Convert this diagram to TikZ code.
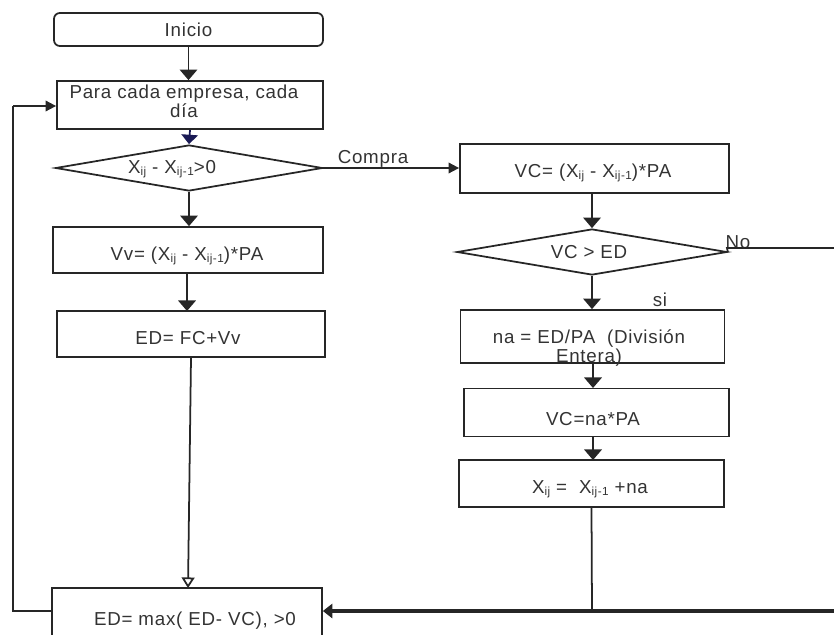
\documentclass[tikz,border=0pt]{standalone}
\usepackage{fontspec}
\setmainfont{Liberation Sans}[LetterSpace=4]
\usetikzlibrary{arrows.meta,shapes.geometric}
\newdimen\pu
\pu=0.03cm
\newcommand{\sbx}[1]{\raisebox{-0.25ex}{\fontsize{10}{10}\selectfont #1}}
\definecolor{txt}{HTML}{333333}
\definecolor{navy}{HTML}{1A1A55}
\tikzset{
  box/.style={draw=black!85, line width=1.5pt, rectangle, inner sep=0pt},
  rbox/.style={box, rounded corners=5pt},
  dia/.style={draw=black!85, line width=1.5pt, diamond, inner sep=0pt, aspect=5.7},
  lbl/.style={text=txt, font=\fontsize{16}{14}\selectfont, inner sep=0pt, align=center},
  conn/.style={draw=black!85, line width=1.5pt},
  arr/.style={conn, -{Triangle[width=15pt,length=9pt]}},
  sarr/.style={conn, -{Triangle[width=9pt,length=9pt]}},
}
\begin{document}
\begin{tikzpicture}[x=0.03cm,y=-0.03cm]
\useasboundingbox (0,0) rectangle (834,634);
% left column
\node[rbox, minimum width=269\pu, minimum height=33\pu, lbl, draw=black!85] (ini) at (188.5,29.5) {Inicio};
\node[box, minimum width=266\pu, minimum height=48\pu] (para) at (190,105) {};
\node[lbl] (parat) at (184,101) {Para cada empresa, cada\\día};
\node[dia, minimum width=267\pu, minimum height=46\pu] (d1) at (189,168) {};
\node[lbl] (d1t) at (172,169) {X\sbx{ij} - X\sbx{ij-1}>0};
\node[box, minimum width=270\pu, minimum height=46\pu] (vv) at (188,250) {};
\node[lbl] (vvt) at (187,256) {Vv= (X\sbx{ij} - X\sbx{ij-1})*PA};
\node[box, minimum width=268\pu, minimum height=46\pu] (edfc) at (191,334) {};
\node[lbl] (edfct) at (188,338) {ED= FC+Vv};
\node[box, minimum width=270\pu, minimum height=60\pu] (edmax) at (187,618) {};
\node[lbl] (edmaxt) at (195,621) {ED= max( ED- VC), >0};
% right column
\node[box, minimum width=269\pu, minimum height=49\pu] (vc) at (594.5,168.5) {};
\node[lbl] (vct) at (593,173) {VC= (X\sbx{ij} - X\sbx{ij-1})*PA};
\node[dia, minimum width=270\pu, minimum height=46\pu] (d2) at (592,252) {};
\node[lbl] (d2t) at (589,252) {VC > ED};
\node[box, minimum width=264\pu, minimum height=53\pu] (na) at (592.5,336.5) {};
\node[lbl] (nat) at (589,348) {na = ED/PA\ \ (División\\Entera)};
\node[box, minimum width=265\pu, minimum height=48\pu] (vcna) at (596.5,412.5) {};
\node[lbl] (vcnat) at (593,419) {VC=na*PA};
\node[box, minimum width=265\pu, minimum height=47\pu] (xij) at (591.5,483.5) {};
\node[lbl] (xijt) at (590,489) {X\sbx{ij} =\ \ X\sbx{ij-1} +na};
% labels
\node[lbl] (compra) at (373,159) {Compra};
\node[lbl] (no) at (738,242) {No};
\node[lbl] (si) at (660,300) {si};
% coordinates
\coordinate (noend) at (834,248);
\coordinate (botend) at (834,611);
\coordinate (loopb) at (13,611);
\coordinate (loopt) at (13,106);
\coordinate (join) at (592,611);
% connectors
\draw[arr] (ini) -- (ini.south |- para.north);
\draw[conn, draw=navy, -{Triangle[width=14pt,length=8pt]}] (para.south) -- (d1.north);
\draw[sarr] (d1.east) -- (d1.east -| vc.west);
\draw[arr] (d1.south) -- (d1.south |- vv.north);
\draw[arr] (187,273) -- (187,311);
\draw[conn, -{Triangle[open,width=11pt,length=9pt]}] (edfc.south) -- (188,588);
\draw[arr] (d2.north |- vc.south) -- (d2.north);
\draw[conn] (d2.east) -- (727,248) -- (noend);
\draw[arr] (d2.south) -- (d2.south |- na.north);
\draw[arr] (593,363) -- (593,388);
\draw[arr] (593,436.5) -- (593,460);
\draw[conn] (xij.south) -- (join);
\draw[conn, line width=2.8pt, -{Triangle[width=12pt,length=8pt]}] (botend) -- (edmax.east |- botend);
\draw[conn] (edmax.west |- loopb) -- (loopb) -- (loopt);
\draw[sarr] (loopt) -- (para.west |- loopt);
\end{tikzpicture}
\end{document}
